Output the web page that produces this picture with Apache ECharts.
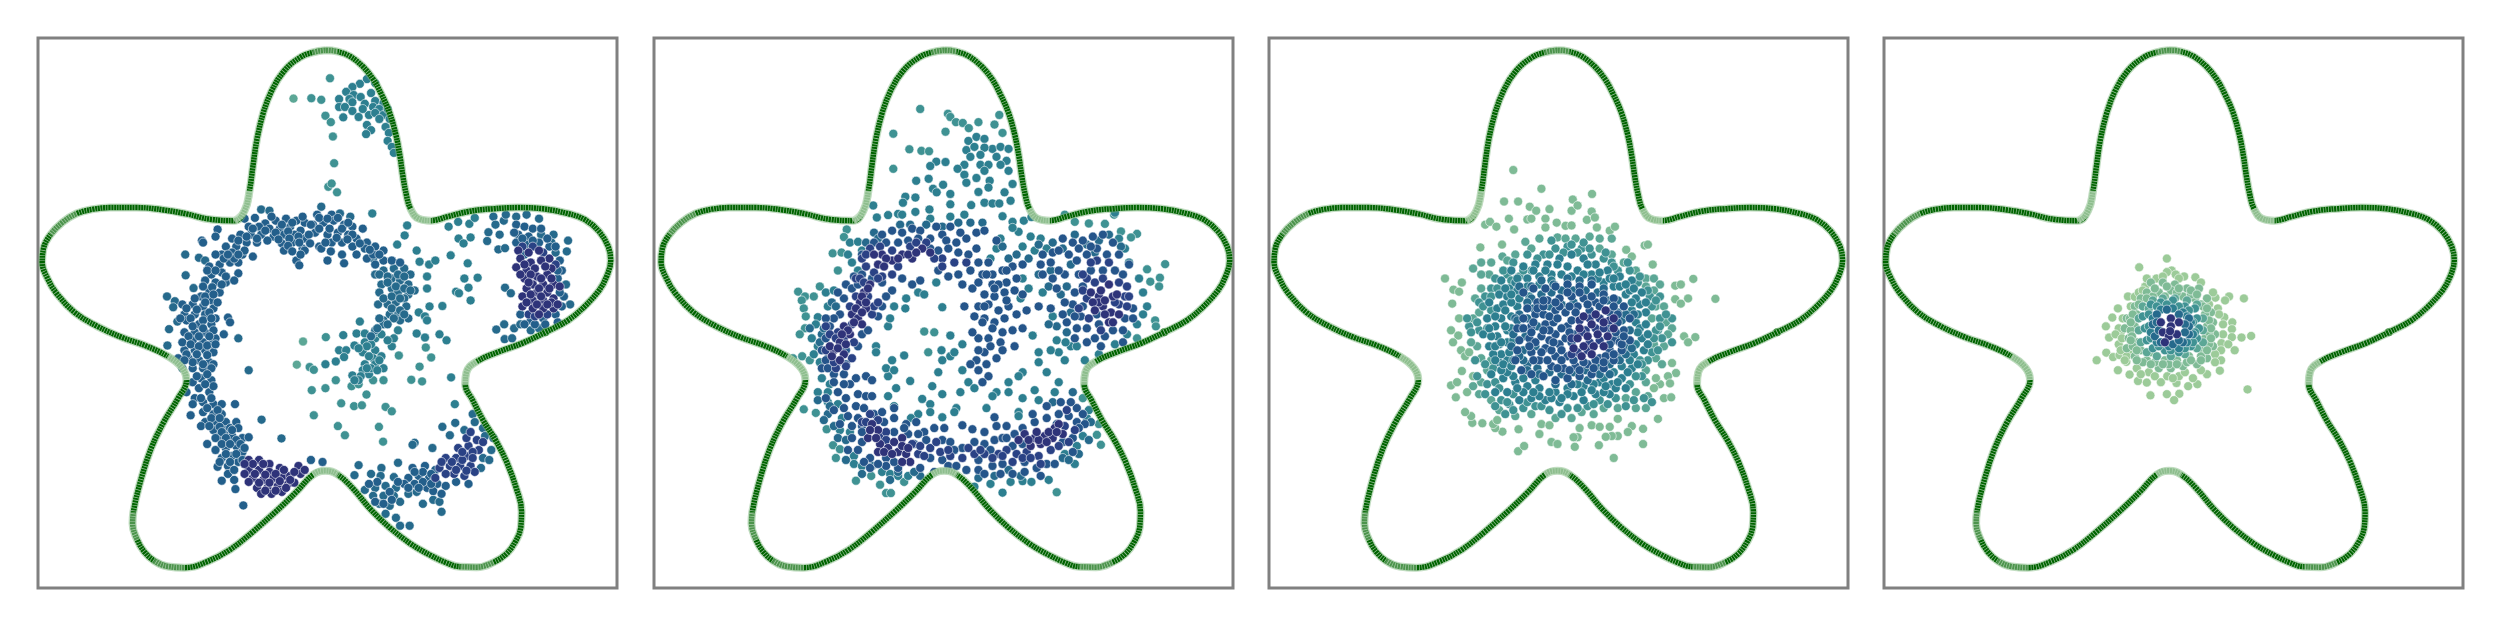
<!DOCTYPE html>
<html><head><meta charset="utf-8">
<style>html,body{margin:0;padding:0;background:#fff}#c{width:2500px;height:625px}</style>
<script src="https://cdn.jsdelivr.net/npm/echarts@6/dist/echarts.min.js"></script>
</head><body><div id="c"></div>
<script>
// density level colours, palest to darkest (9 = ring blue of the first panel)
const levelColors=['#9ccb99','#7fbb96','#5ca796','#3f9293','#2d7f90','#266a8c','#25558a','#2a4285','#2e3379','#235f8b'];
// star outline (x,y flat)
const outline=[785,128,815,131,845,143,875,168,900,200,920,238,940,285,955,340,965,395,972,445,980,490,990,525,1010,550,1040,555,1080,545,1130,532,1190,525,1250,522,1310,525,1370,537,1410,552,1445,582,1467,620,1473,655,1463,695,1445,730,1410,770,1370,805,1315,835,1260,862,1200,885,1150,908,1125,935,1122,965,1140,1005,1165,1055,1195,1105,1222,1160,1245,1225,1258,1285,1256,1325,1243,1360,1222,1390,1190,1412,1150,1424,1110,1423,1075,1412,1040,1395,990,1365,940,1325,895,1280,850,1225,815,1192,785,1182,755,1192,715,1235,665,1285,610,1335,555,1380,500,1410,445,1425,405,1422,372,1408,348,1385,331,1355,320,1315,322,1285,340,1205,365,1125,395,1060,430,1000,450,955,440,925,405,895,350,868,295,848,235,820,180,785,135,735,115,700,102,660,105,625,122,590,150,560,185,537,225,526,265,522,330,522,395,528,450,538,510,552,565,555,590,530,602,480,610,420,620,350,635,285,655,230,685,180,725,145,755,133,785,128];
const paleStretches=[[11,13],[31,33],[52,54],[71,73],[91,93]];
const fadedStretches=[[0,1],[100,101],[43,45],[60,62],[64,66],[82,84]];
const outlineDot=[1315,835];

const p1L2=[708,249,731,858,716,916];
const p1L3=[796,198,751,248,775,252,785,292,798,308,803,344,806,411,792,470,800,462,813,484,747,922,757,929,786,847,823,1013,854,1020,873,1018,930,1022,945,1033,757,1043,815,1070,914,1072,832,1093,924,1109,752,980,785,975,810,955,848,970,865,965,884,991,925,955,900,955,1012,921,992,954,1018,958,1040,898,1027,873,962,893];
const p1L4=[885,200,868,212,850,220,905,210,835,232,853,240,895,235,818,250,843,250,870,245,905,255,925,260,818,270,832,270,850,258,880,262,900,270,915,275,828,296,850,280,865,295,890,290,905,285,925,290,885,315,895,328,883,338,930,320,938,335,935,355,945,370,950,385,915,300,940,300,875,275,935,275,982,567,976,592,958,615,1005,630,1012,658,1035,665,1050,655,1030,695,1030,725,1036,770,1067,769,1010,785,1025,795,1030,805,1005,838,1025,848,1060,840,1077,855,1088,948,1097,1015,898,537,868,808,828,842,860,838,880,838,855,868,880,860,905,850,945,870,960,830,950,850,818,880,835,880,875,885,905,880,920,895,830,897,810,908,785,915,900,900,880,915,905,915,925,925,875,930,890,940,850,943,870,945,1082,570,1105,558,1132,563,1145,548,1106,600,1118,612,1135,597,1087,642,1128,662,1120,700,1152,698,1130,723,1100,733,1107,737,1135,755,905,835,920,840,935,855,895,865,885,870,865,875,890,895,915,905,895,925,865,955,855,955,910,930,885,925];
const p1L5=[905,690,925,680,950,675,975,675,990,690,920,715,945,700,965,705,985,715,1000,730,915,735,945,725,960,735,985,740,975,750,912,765,935,765,955,760,980,770,940,790,960,790,985,800,925,805,965,805,905,830,925,815,895,845,910,825,600,930,631,1054,679,1101,630,527,650,530,775,520,820,537,845,545,447,640,448,692,403,745,467,724,480,648,495,655,422,757,418,772,408,827,404,868,428,808,575,850,865,1168,855,1193,920,1175,895,1190,918,1195,960,1162,950,1198,880,1230,905,1225,930,1220,955,1225,900,1245,925,1245,950,1245,915,1265,940,1270,965,1260,930,1290,955,1300,965,1320,988,1320,985,1240,1005,1235,1020,1265,1045,1255,1065,1285,1060,1260,1043,1125,1067,1072,1098,1062,1085,1093,1000,1112,995,1117,1140,1040,1165,1075,1170,1095,1190,1100,1185,1130,1165,1150,1160,1175,1180,1155,1120,1080,1145,1060,1178,584,1175,606,1202,627,1218,624,1190,545,1215,555,1195,565,1220,540,1205,590,1245,545,1270,540,1300,550,1305,590,1335,590,1370,605,1330,610,1367,632,1340,635,1218,723,1232,737,1197,828,1216,815,1217,852,1240,825,1255,815,1235,850,1280,830,1300,825,1375,765,1365,715,900,650,915,690,935,695,960,690,975,695,935,710,955,720,975,725,925,750,945,745,965,750,990,730,945,775,965,780,950,800,935,815,915,800,975,790];
const p1L6=[765,540,800,540,735,560,755,565,780,560,805,555,830,565,850,570,875,575,590,550,615,548,640,562,665,555,690,550,715,555,600,570,625,570,650,575,675,575,700,570,725,580,580,590,605,590,630,590,660,595,685,590,710,590,735,600,760,585,790,590,815,585,840,590,860,600,885,610,560,600,545,620,570,620,595,610,620,610,680,612,705,610,730,625,770,620,800,610,825,610,850,620,880,625,905,620,925,630,525,577,487,605,490,610,520,595,535,640,560,635,585,640,610,645,685,630,735,630,775,625,798,632,825,640,860,640,885,650,900,640,715,655,722,667,790,655,830,662,905,665,925,655,945,655,965,660,520,640,505,670,530,665,555,660,575,660,510,690,535,685,575,687,495,705,520,710,545,710,565,705,505,730,530,735,485,745,510,755,440,765,465,765,490,770,515,775,445,790,470,790,495,790,520,800,550,798,555,810,450,805,480,815,510,815,540,840,445,835,470,835,495,835,520,850,465,855,490,860,510,865,445,880,470,880,495,880,515,885,430,900,455,900,480,905,505,910,440,925,465,925,490,925,515,915,485,950,510,955,465,960,480,975,505,985,515,970,450,985,470,1000,490,1010,515,1015,535,1015,567,1015,460,1043,490,1035,515,1040,535,1040,495,1060,520,1060,545,1060,570,1060,485,1070,515,1080,545,1080,575,1075,500,1115,530,1095,560,1095,585,1100,600,1098,520,1130,545,1125,570,1120,535,1150,560,1145,585,1135,525,1172,550,1170,575,1160,535,1207,565,1205,550,1190,568,1228,587,1269,995,1175,1025,1170,1050,1180,985,1200,1010,1195,1035,1200,1000,1215,1030,1225,1055,1215,1075,1220,1045,1233,1100,1210,1130,1215,1245,565,1265,570,1285,575,1250,590,1275,595,1245,610,1270,615,1300,610,1325,620,1350,655,1355,680,1360,745,1345,700,1255,790,1280,805,1310,800,1340,790,1265,640,750,1155,778,1160];
const p1L6b=[610,575,640,580,665,585,695,582,720,595,745,590,770,575,795,575,825,575,850,590,595,595,620,600,645,605,672,602,698,600,722,610,748,612,785,610,812,598,838,602,868,612,892,628,915,640,575,605,540,650,565,650,590,630,575,640,550,640,695,618,705,632,725,640,750,565,770,548,790,550,815,548,840,560,655,545,680,565,705,560,730,545,500,680,520,680,545,695,490,720,512,722,535,715,495,745,515,740,470,750,495,760,525,760,450,775,475,778,505,785,435,800,460,800,490,805,510,800,465,820,490,825,515,830,455,845,480,845,505,845,440,860,460,865,480,870,500,868,520,865,450,890,475,890,500,892,465,910,490,915,510,925,445,905,500,940,475,945,495,965,510,1000,485,1000,465,1015,500,1025,525,1030,510,1050,530,1050,505,1070,530,1072,555,1075,535,1085,560,1080,520,1100,545,1100,570,1105,535,1115,555,1115,580,1115,545,1140,570,1140,590,1125,555,1160,530,1160,565,1180,585,1155,1020,1185,1000,1185,1040,1190,1020,1210,975,1215,960,1210,1010,1225,985,1225,940,1235,910,1210,890,1215,905,1260,925,1265,945,1255,1040,1215,1065,1240,1240,585,1260,600,1285,605,1305,575,1320,600,1340,620,1345,680,1350,735,1265,815,1290,815,1315,815,1345,810,1355,770];
const p1L7=[1075,1150,1100,1150,1125,1145,1060,1175,1085,1170,1110,1170,1135,1170,1095,1190,1120,1195,1145,1185,1105,1125,1130,1120,1155,1130,1125,1100,1150,1105,1065,1160,1090,1160,1115,1155,1100,1180,1125,1182,1075,1190,1050,1200,1115,1135,1140,1135,1140,1150,1165,1110,1135,1085,1260,620,1285,620,1310,635,1340,665,1275,790,1290,795,1320,790];
const p1L8=[600,1155,625,1155,650,1165,600,1180,625,1180,650,1185,675,1175,610,1200,635,1205,660,1200,685,1195,620,1225,645,1225,670,1220,695,1215,630,1240,655,1240,680,1235,700,1195,720,1170,725,1190,710,1212,1250,630,1275,635,1300,630,1325,650,1255,650,1280,660,1305,655,1330,675,1245,672,1270,680,1295,695,1320,690,1265,700,1285,715,1310,715,1335,715,1270,725,1295,735,1320,735,1260,745,1285,755,1310,755,1335,750,1260,770,1285,775,1310,775,1335,775,1300,790,610,1165,635,1165,590,1165,615,1190,640,1192,665,1190,625,1212,650,1212,675,1208,700,1205,640,1232,665,1232,690,1225,685,1180,710,1185,590,1190,600,1210,735,1180,1265,665,1290,675,1315,670,1255,690,1280,690,1305,700,1330,700,1275,710,1300,725,1325,725,1350,720,1280,740,1305,745,1330,760,1270,760,1295,765,1320,765,1345,765];

const p2L3=[745,275,814,287,820,295,678,337,678,425,718,376,748,380,767,381,942,290,808,332,834,308,851,310,866,323,890,308,930,314,950,335,562,577,555,596,527,637,549,635,540,680,441,733,458,745,480,745,450,755,495,720,455,775,460,795,458,825,445,840,428,900,451,895,455,1028,485,1037,470,905,512,1078,528,1118,545,1128,535,1150,585,1207,623,1195,645,1217,660,1238,672,1238,705,1210,1085,1236,1195,1117,1185,1092,1190,1065,1150,1000,1355,664,1310,677,1342,698,1318,708,1340,720,1330,805,1332,820,1285,850,1285,588,1270,597,1245,582,1228,540,1205,563,1165,562,1130,558,1105,540,755,833,780,835,765,885];
const p2L4=[865,355,885,345,905,350,925,375,860,378,880,370,905,372,945,370,965,375,870,395,895,390,935,395,960,405,855,415,838,425,895,415,915,415,945,415,965,430,855,440,885,448,905,430,860,460,918,455,975,463,785,407,808,408,770,418,735,455,766,450,802,465,777,475,786,484,820,488,890,483,915,472,955,484,708,495,733,497,702,510,820,514,872,516,905,510,925,512,942,512,970,505,733,533,768,527,665,541,690,538,700,540,628,517,637,547,770,550,820,545,855,540,950,544,975,558,1003,555,1022,546,570,610,590,608,600,630,565,640,575,660,590,680,510,735,530,730,515,770,490,797,485,815,475,850,490,870,480,890,495,910,500,950,520,965,515,985,490,985,515,1010,540,1015,550,1050,545,1080,570,1085,580,1145,580,1165,600,1170,650,1185,670,1190,690,1195,715,1195,880,1222,920,1215,950,1237,970,1210,1000,1208,1022,1210,1065,1205,1130,1165,1105,1140,1135,1120,1150,1095,1160,1050,1165,1030,1230,535,1240,600,1255,625,1265,660,1290,700,1300,735,1310,770,1300,790,1285,815,1260,840,1230,865,1190,890,1155,905,1120,870,1105,905,1090,885,1070,880,1040,885,1040,910,1000,935,990,945,1060,935,1090,960,1080,985,1030,980,1040,1005,1000,1000,965,960,965,985,935,985,925,995,910,1025,835,1025,830,1035,990,1035,990,1045,800,1048,740,1040,722,1050,770,1015,770,1035,680,1020,665,995,720,957,685,975,665,945,660,925,680,930,675,905,705,893,635,870,635,885,665,820,670,800,680,770,710,750,708,775,740,735,755,740,785,710,798,880,800,905,790,935,820,895,830,885,800,772,820,843,850,865,850,930,865,960,845,985,880,975,775,970,800,990,750,1002,1025,843,1085,855,1107,860,1135,870,1075,795,1050,735,1015,725,995,750,1000,700,1030,630,1060,625,1045,600,1020,595,990,583,1000,620,975,573,945,600,935,625,920,650];
const p2L5=[1075,610,1100,625,1130,590,1160,615,1190,605,1215,590,1245,620,1070,680,1120,665,1040,690,1065,720,1095,740,1180,635,1110,720,1120,785,1085,820,1065,815,1110,835,515,1040,520,1020,490,1005,505,1055,530,1070,540,1100,560,1105,560,1155,600,1190,625,1170,670,1205,690,1185,745,1195,730,1185,890,1200,930,1195,965,1180,995,1195,1100,1150,1115,1155,1140,1140,1165,1105,1170,1060,1125,985,1075,1010,630,585,610,610,640,600,695,565,720,565,760,565,800,570,840,560,870,560,900,560,950,620,965,650,985,640,1015,650,1040,615,500,840,495,860,505,825,525,760,535,770,470,825];
const p2L6=[650,590,675,580,700,585,725,575,745,580,770,600,800,590,820,570,845,585,885,585,905,580,630,610,660,610,690,610,715,605,740,600,785,570,810,605,835,610,860,600,885,625,600,640,620,630,770,625,790,630,815,625,840,635,865,640,890,660,915,660,935,605,580,695,600,690,560,715,555,750,575,725,590,715,625,700,650,710,675,730,700,700,725,715,745,705,790,680,815,695,840,690,870,680,900,690,925,690,950,680,975,670,1000,665,960,710,985,700,925,715,850,715,875,725,905,740,930,745,955,735,980,730,890,770,915,765,940,780,965,770,855,770,880,795,905,800,930,810,955,800,985,790,1010,780,1040,770,1070,775,925,825,950,835,975,830,1000,825,890,850,915,850,945,860,980,870,905,885,885,905,910,915,935,900,890,930,915,945,1050,640,1075,635,1100,600,1125,610,1150,605,1175,595,1200,590,1225,610,1045,665,1070,660,1105,690,1135,655,1160,640,1185,625,1210,640,1240,640,1265,665,1140,690,1170,680,1200,680,1230,680,1130,735,1150,720,1250,690,1125,765,1150,770,1110,810,1135,825,1160,825,1190,815,1255,800,1275,800,1180,850,1205,845,1225,830,1250,830,1185,790,1145,795,540,735,520,820,510,850,545,790,530,800,500,880,515,900,540,910,560,915,560,880,590,870,600,840,615,830,640,795,650,770,660,745,500,925,530,940,555,940,585,950,610,945,625,955,570,965,590,990,610,995,540,985,560,1000,585,1020,605,1025,565,1045,545,1065,590,1050,625,995,630,1040,650,1035,680,1025,600,1070,600,1085,655,1060,680,1050,710,1065,735,1060,680,1085,715,1090,755,1085,780,1075,805,1075,850,1068,875,1078,905,1085,930,1048,935,1070,960,1070,1000,1075,1030,1060,1060,1050,1090,1040,1115,1045,1135,1060,1155,1065,1135,1025,1095,1010,1060,1020,1085,1065,600,1110,590,1130,620,1150,605,1160,660,1150,660,1170,690,1175,730,1115,760,1105,800,1105,820,1110,850,1125,880,1110,905,1115,930,1105,950,1100,975,1120,1000,1115,745,1175,770,1150,800,1155,830,1130,860,1180,890,1155,920,1130,925,1170,950,1165,975,1190,1005,1160,1035,1175,1060,1165,1080,1165,1100,1110,1125,1100,960,680,890,710,910,690,940,715,905,770,930,725,960,755,1000,740,900,810,875,835,920,870,950,880,890,880,870,915,900,960,1090,630,1115,640,1140,625,1170,620,1090,680,1075,700,1050,690,1085,725,1105,760,1100,790,1130,795,1130,850,1160,860,1195,870,1250,860,1275,775,510,800,510,905,515,925,530,960,555,965,510,1000,530,1030,555,1025,575,1070,575,1100,565,1130,620,1175,640,1165,680,1160,705,1075,740,1090,780,1185,815,1170,835,1170,890,1180,905,1190,945,1190,1005,1185,1045,1195,1125,1135,1150,1040,1120,1010,1140,1075,960,1100,980,1090,1025,1040];
const p2L7=[620,625,645,620,675,630,720,620,800,650,830,660,860,660,585,700,630,685,585,745,615,745,625,790,555,850,580,860,510,820,540,835,560,920,535,925,620,1040,600,1060,650,1095,725,1115,740,1140,770,1125,795,1135,820,1145,850,1150,880,1140,905,1140,940,1140,960,1130,985,1140,1010,1135,1040,1145,1105,1070,1115,1110,1160,700,1180,710,1160,750,1255,745,1240,765,1185,655,1215,660,600,650,610,640,650,695,675,690,690,670,610,670,595,700,605,710,640,700,760,610,780,650,800,670,735,610,570,770,630,770,640,760,575,815,520,840,535,850,510,880,575,900,530,910,610,1060,660,1085,640,1055,660,1105,745,1120,755,1145,785,1110,815,1130,865,1125,895,1130,925,1150,950,1145,975,1160,1000,1150,1020,1150,1045,1165,1070,1130,1090,1120,1130,1080,1110,1030,1150,690,1170,660,1200,700,1240,710,1260,720,1150,730,1140,775,1165,800,1195,830,1230,760,1260,770,1265,745];
const p2L8=[650,640,675,655,700,640,725,650,750,625,770,635,640,665,620,715,605,735,595,760,610,775,575,790,590,800,600,815,555,820,570,840,545,860,530,880,555,890,545,905,520,870,625,1065,640,1080,615,1100,645,1115,665,1125,640,1135,690,1135,710,1140,720,1160,680,1110,700,1100,1005,1090,1030,1100,1055,1095,1080,1075,1075,1100,1100,1090,1045,1115,1020,1120,990,1105,1170,735,1190,745,1215,715,1225,745,1200,770,1220,785,1240,790,1215,810,1190,760,660,650,690,650,715,640,735,635,655,670,630,640,615,725,600,745,610,760,585,775,600,785,580,810,565,830,550,840,540,875,560,865,525,895,620,1080,635,1100,655,1135,675,1140,700,1120,715,1125,700,1160,1015,1105,1040,1105,1065,1085,1090,1065,1060,1110,1085,1085,1035,1085,1175,760,1205,755,1235,740,1205,790,1225,810,1195,730,1180,780];

const p3L1=[655,428,725,475,851,488,632,507,667,507,696,520,712,530,745,526,803,502,800,530,815,517,850,532,838,553,858,547,585,565,597,558,613,570,644,550,657,577,690,552,700,550,735,550,735,572,763,560,785,568,800,567,863,572,895,580,908,570,982,617,990,615,1002,665,936,628,950,645,573,622,627,615,485,700,506,728,520,733,527,710,503,763,1103,701,1058,718,1072,715,1158,751,1058,752,1090,750,1072,763,1080,845,1108,847,1090,860,1050,912,1060,937,1040,945,1045,963,1020,965,1010,950,1030,1000,1048,998,1015,1052,1005,975,978,1077,978,1115,905,1150,868,1118,808,1122,667,1133,682,1120,750,1110,765,1115,720,1090,628,1084,668,1078,578,1063,553,1062,550,1045,535,1035,512,998,500,968,515,960,500,830,518,843,505,860,520,800,525,880,535,895,545,885,527,932,555,945,540,985,950,1070,940,1085,915,1095,900,1095,885,1097,850,1068,870,1072,895,1072,915,1052,820,1075,815,1098,805,1098,725,1065,745,1068,610,1075,605,1065,615,1055];
const p3L2=[628,645,640,655,660,640,685,608,700,625,720,600,765,597,785,600,810,600,845,595,870,600,900,600,870,625,900,640,930,660,960,680,985,700,1005,700,1020,715,1005,730,985,720,1010,770,1030,770,1000,800,1035,810,1050,825,1040,840,1005,865,1030,870,1010,900,1025,915,985,930,985,960,960,985,990,995,960,1025,985,1025,915,1025,935,1000,880,1025,855,1040,825,1035,800,1050,760,1050,700,1040,660,1045,620,1030,600,1005,570,990,555,970,575,960,590,930,600,905,575,900,565,870,550,860,555,800,570,785,560,750,575,725,595,690,575,690,555,675,575,660,600,660];
const p3L3=[640,690,670,695,700,680,730,640,760,625,790,620,825,625,850,640,880,650,915,680,945,680,965,710,995,745,1000,770,1020,800,1015,830,1025,850,1000,885,990,905,970,905,975,945,945,965,910,1000,870,1005,840,1020,790,1025,745,1030,710,1020,680,1025,645,1015,625,1005,590,965,610,960,585,915,570,830,590,825,570,760,600,725,610,700,580,770,600,780,655,660,690,640,830,610,800,615,750,605,900,660,1020,745,1050,800,1050,860,1010,830,980,1000,1000,1010,655,990,640,1010,620,975,545,820,540,800,615,725,650,705,680,680,715,650,745,640,780,635,815,635,845,625,885,635,905,670,940,660,970,695,990,730,1010,755,1035,790,1020,820,1005,850,1015,880,975,915,960,945,955,1005,935,1020,890,1015,855,1015,815,1025,775,1040,725,1020,690,1010,655,1030,635,1040,610,1020,585,990,565,945,560,905,605,925,550,835,565,810,585,745,600,745,630,680];
const p3L4=[650,680,680,670,710,665,740,665,770,650,800,640,830,650,860,665,890,680,920,695,950,705,975,735,970,765,985,785,960,810,975,850,955,890,980,880,950,925,925,950,935,975,895,990,900,965,860,990,830,1005,805,995,770,1010,735,1005,700,1000,670,1005,640,985,610,985,630,950,600,940,620,910,640,905,595,870,620,865,580,840,610,820,590,800,615,775,595,760,620,740,645,725,625,705,660,710,690,700,720,695,750,690,790,670,815,680,850,690,880,710,905,720,935,740,660,960,690,970,720,975,760,985,790,975,830,970,870,960,640,860,640,830,650,795,665,770,665,730,690,720,720,715,750,705,775,690,800,695,830,690,865,700,895,700,920,720,945,730,960,750,950,780,965,790,970,825,960,865,945,905,925,920,905,935,880,950,855,965,825,985,790,990,750,1000,720,995,680,985,655,945,640,935,625,890,615,845,625,800,630,765,640,745,600,845,605,890,650,825,655,855,645,885,650,760,670,750,695,745,880,985,910,975,680,950,710,955,635,725,665,700,705,680,735,680,765,665,840,665,870,685,905,700,935,715,955,725,985,760,950,760,985,815,990,840,965,835,990,865,965,915,940,935,915,960,885,970,850,980,815,965,775,1000,745,985,705,985,665,975,625,930,610,905,610,870,595,825,610,795,635,780,650,740,625,860,630,915,650,920,655,905,635,820];
const p3L5=[700,750,725,740,750,735,775,730,805,730,835,730,865,735,890,755,915,785,925,805,915,850,935,870,915,895,895,915,865,920,835,930,805,935,775,940,745,935,715,925,690,915,680,880,685,845,675,825,690,800,705,775,680,905,710,870,715,820,745,770,775,765,805,760,670,790,660,800,655,840,650,870,670,895,690,930,720,940,760,965,800,965,840,955,870,940,895,940,920,905,935,890,950,875,945,830,955,790,935,790,915,755,880,725,850,705,820,705,790,700,755,715,725,705,700,720,670,720,690,760,665,805];
const p3L6=[680,735,705,725,735,725,760,720,790,715,820,720,850,715,880,740,905,750,930,770,945,800,930,830,945,855,925,880,905,905,880,925,850,940,820,945,790,950,760,955,730,945,700,940,675,930,660,905,665,880,670,855,665,825,680,800,690,775,715,760,740,755,770,750,800,745,830,750,860,760,710,790,700,820,695,850,700,885,720,905,750,920,780,925,810,920,840,915,870,900,895,880,905,855,730,790,760,780,735,815,725,845,735,875,760,895,790,895,755,810,760,840,770,865,785,785,790,820,785,850,815,770,845,780,745,795,765,800,775,825,745,830,745,855,750,880,775,880,775,905,805,905,830,910,860,905,885,895,895,865,920,860,910,835,895,825,915,810,895,785,870,770,840,765,810,785,800,805,810,840,795,835,800,860,770,770,795,770,715,775,730,770,705,810,680,825,700,835,710,860,695,870,725,885,705,905,740,905,765,925,795,930,820,930,855,925,880,910,905,890,925,865,930,845,915,790,905,770,880,755,850,745,820,735,790,735,760,760,730,755,755,860,730,830];
const p3L7=[820,805,845,800,870,800,895,805,835,830,860,825,880,825,800,850,825,835,845,860,870,855,815,885,840,880,800,890];
const p3L8=[830,795,860,790,885,780,905,800,820,825,850,815,880,810,905,825,815,850,840,845,865,840,890,845,805,875,830,870,855,870,880,870,825,895,850,890];

const p4L0=[740,650,671,672,752,680,740,684,762,690,783,695,811,697,714,700,686,720,643,745,660,746,861,748,895,745,932,750,885,755,867,775,618,775,604,798,588,820,596,848,883,797,903,810,902,827,902,847,926,848,950,844,876,862,893,865,875,880,909,880,589,886,606,897,622,892,565,905,639,909,875,905,618,930,872,931,647,941,668,957,690,961,725,960,741,945,764,962,793,970,816,965,699,993,740,990,771,989,758,1005,941,978,620,865,625,835,620,825,840,940,805,950,770,945,695,935,665,925,650,890,860,890,690,700,670,735,650,770,630,800,612,840,625,880,640,895,675,940,710,945,755,950,785,935,825,930,860,910,880,840,880,815,870,790,845,765,825,710,770,700,730,695,855,735,680,730,628,850,635,905];
const p4L1=[700,710,730,710,760,715,790,725,820,725,840,750,660,770,640,800,635,825,645,850,640,875,660,895,690,905,720,925,750,925,780,920,815,915,840,900,855,870,860,840,855,810,850,785,690,735,720,735,750,730,780,745,810,750,665,790,660,820,665,860,675,880,700,885,735,905,765,905,795,895,830,880,835,850,840,820,835,790,675,750,705,745,735,745,765,735,800,740,825,765,650,830,648,800,655,870,680,910,710,910,745,915,790,910,825,895,845,865,845,835,845,805,830,770,710,725,740,720,770,725,800,730,815,740,690,750,670,765,655,790,650,810,653,845,650,855,665,880,665,905,700,915,730,915,765,915,800,905,825,905,840,880,850,850,850,825,840,775];
const p4L2=[705,755,730,750,760,750,790,755,815,765,680,770,670,800,670,830,675,860,690,885,715,895,750,895,785,890,815,875,830,860,830,830,830,800,695,775];
const p4L3=[700,765,725,760,755,755,785,770,810,775,680,795,685,825,690,855,705,875,735,880,770,885,800,870,815,850,820,825,815,800,715,770,740,765,770,770,795,780,695,790,695,820,700,850,720,870,750,880,785,875,805,860,805,810,810,835];
const p4L4=[725,778,755,775,780,785,705,800,700,835,715,860,745,870,770,875,790,860,805,840,800,810,790,795];
const p4L5=[715,790,740,778,770,790,795,800,705,815,710,845,725,860,755,865,780,860,795,840,795,820,715,810,720,830,785,815,785,835,770,855];
const p4L8=[725,810,750,800,770,810,730,835,750,820,745,845,765,840,735,860,748,832];

// [panel, level, points]
const scatterGroups=[
 [0,2,p1L2],[0,3,p1L3],[0,4,p1L4],[0,5,p1L5],[0,9,p1L6],[0,9,p1L6b],[0,7,p1L7],[0,8,p1L8],
 [1,3,p2L3],[1,4,p2L4],[1,5,p2L5],[1,6,p2L6],[1,7,p2L7],[1,8,p2L8],
 [2,1,p3L1],[2,2,p3L2],[2,3,p3L3],[2,4,p3L4],[2,5,p3L5],[2,6,p3L6],[2,7,p3L7],[2,8,p3L8],
 [3,0,p4L0],[3,1,p4L1],[3,2,p4L2],[3,3,p4L3],[3,4,p4L4],[3,5,p4L5],[3,8,p4L8]
];

const pairs=a=>{const r=[];for(let i=0;i+1<a.length;i+=2)r.push([a[i],a[i+1]]);return r;};
const frameLeft=[38,654,1269,1884], frameW=579, frameTop=38, frameH=550;
const pointRange=[[92,1488],[82,1524],[47,1488],[35,1478]];
const starRange=[[92,1488],[85,1481],[90,1486],[98,1494]];
const yRange=[97,1476];
const star=pairs(outline);

const grid=[],xAxis=[],yAxis=[],series=[];
const hidden={show:false,scale:false};
frameLeft.forEach((l,i)=>{
  grid.push({left:l,top:frameTop,width:frameW,height:frameH,show:true,borderColor:'#808080',borderWidth:3,backgroundColor:'#fff',containLabel:false});
  xAxis.push({type:'value',gridIndex:i,min:pointRange[i][0],max:pointRange[i][1],...hidden});
  xAxis.push({type:'value',gridIndex:i,min:starRange[i][0],max:starRange[i][1],...hidden});
  yAxis.push({type:'value',gridIndex:i,min:yRange[0],max:yRange[1],inverse:true,...hidden});
});
scatterGroups.forEach(([p,lv,pts])=>{
  series.push({type:'scatter',xAxisIndex:p*2,yAxisIndex:p,data:pairs(pts),symbol:'circle',symbolSize:9,silent:true,clip:false,large:false,
    itemStyle:{color:levelColors[lv],borderColor:'rgba(255,255,255,0.7)',borderWidth:0.8,opacity:1}});
});
frameLeft.forEach((l,i)=>{
  const base={type:'line',xAxisIndex:i*2+1,yAxisIndex:i,symbol:'none',smooth:0.45,silent:true,clip:false};
  series.push({...base,data:star,lineStyle:{color:'rgba(120,180,120,0.45)',width:8}});
  series.push({...base,data:star,lineStyle:{color:'#006400',width:5.5}});
  series.push({...base,data:star,lineStyle:{color:'rgba(255,255,255,0.6)',width:5.5,type:[0.7,2],cap:'butt'}});
  fadedStretches.forEach(([a,b])=>{
    series.push({...base,data:star.slice(a,b+1),lineStyle:{color:'rgba(190,220,190,0.4)',width:7}});
  });
  paleStretches.forEach(([a,b])=>{
    series.push({...base,data:star.slice(a,b+1),lineStyle:{color:'rgba(190,220,190,0.75)',width:7}});
  });
  series.push({type:'scatter',xAxisIndex:i*2+1,yAxisIndex:i,data:[outlineDot],symbol:'circle',symbolSize:8,silent:true,clip:false,itemStyle:{color:'#006400'}});
});
const chart=echarts.init(document.getElementById('c'),null,{renderer:'canvas',width:2500,height:625});
chart.setOption({animation:false,backgroundColor:'#fff',grid,xAxis,yAxis,series,tooltip:{show:false}});
</script></body></html>
